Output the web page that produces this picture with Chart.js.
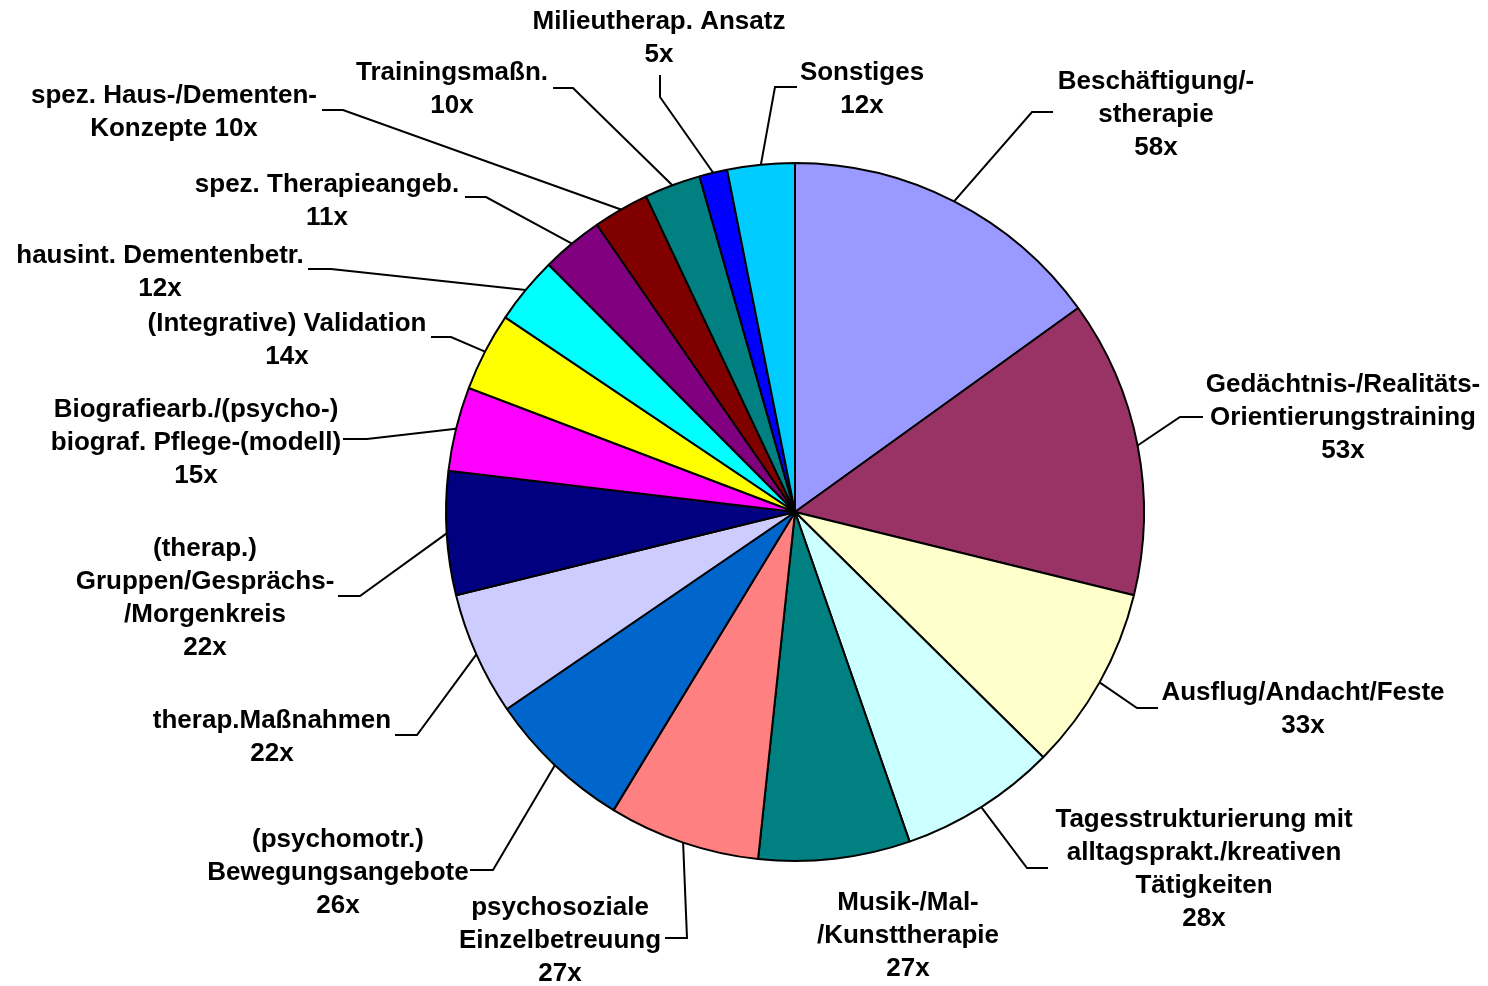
<!DOCTYPE html>
<html>
<head>
<meta charset="utf-8">
<script src="https://cdn.jsdelivr.net/npm/chart.js@4.4.1/dist/chart.umd.min.js"></script>
<style>
  html, body { margin: 0; padding: 0; background: #fff; }
  #wrap { width: 1488px; height: 986px; position: relative; }
</style>
</head>
<body>
<div id="wrap"><canvas id="c" width="1488" height="986"></canvas></div>
<script>
// ---- data ----
const categories = [
  "Beschäftigung/-\nstherapie",
  "Gedächtnis-/Realitäts-\nOrientierungstraining",
  "Ausflug/Andacht/Feste",
  "Tagesstrukturierung mit\nalltagsprakt./kreativen\nTätigkeiten",
  "Musik-/Mal-\n/Kunsttherapie",
  "psychosoziale\nEinzelbetreuung",
  "(psychomotr.)\nBewegungsangebote",
  "therap.Maßnahmen",
  "(therap.)\nGruppen/Gesprächs-\n/Morgenkreis",
  "Biografiearb./(psycho-)\nbiograf. Pflege-(modell)",
  "(Integrative) Validation",
  "hausint. Dementenbetr.",
  "spez. Therapieangeb.",
  "spez. Haus-/Dementen-\nKonzepte",
  "Trainingsmaßn.",
  "Milieutherap. Ansatz",
  "Sonstiges"
];
const values = [58, 53, 33, 28, 27, 27, 26, 22, 22, 15, 14, 12, 11, 10, 10, 5, 12];
const valueSuffix = "x";
const valueInline = [false,false,false,false,false,false,false,false,false,false,false,false,false,true,false,false,false];

// ---- styles ----
const colors = [
  "#9999FF", "#993366", "#FFFFCC", "#CCFFFF", "#008080", "#FF8080", "#0066CC",
  "#CCCCFF", "#000080", "#FF00FF", "#FFFF00", "#00FFFF", "#800080", "#800000",
  "#008080", "#0000FF", "#00CCFF"
];

// label layout: offsets relative to pie centre (text = centre x / first line y; leader = points after the arc anchor)
const labelLayout = [
  { t: [361, -430], l: [[237, -400], [258, -400]] },
  { t: [548, -127], l: [[385, -95], [408, -95]] },
  { t: [508, 181],  l: [[342, 196], [363, 196]] },
  { t: [409, 308],  l: [[232, 356], [253, 356]] },
  { t: [113, 391],  l: null },
  { t: [-235, 396], l: [[-108, 426], [-130, 426]] },
  { t: [-457, 328], l: [[-302, 358], [-325, 358]] },
  { t: [-523, 209], l: [[-378, 223], [-400, 223]] },
  { t: [-590, 37],  l: [[-435, 84], [-457, 84]] },
  { t: [-599, -102], l: [[-428, -73], [-452, -73]] },
  { t: [-508, -188], l: [[-344, -175], [-364, -175]] },
  { t: [-635, -256], l: [[-464, -243], [-487, -243]] },
  { t: [-468, -327], l: [[-309, -315], [-330, -315]] },
  { t: [-621, -416], l: [[-452, -402], [-473, -402]] },
  { t: [-343, -439], l: [[-222, -424], [-242, -424]] },
  { t: [-136, -490], l: [[-135, -415], [-135, -437]] },
  { t: [67, -439],  l: [[-20, -425], [2, -425]] }
];
const LINE_H = 33;
const FONT = "bold 26px 'Liberation Sans', Arial, sans-serif";

const labelPlugin = {
  id: 'pieLabels',
  afterDatasetsDraw(chart) {
    const ctx = chart.ctx;
    const meta = chart.getDatasetMeta(0);
    ctx.save();
    ctx.strokeStyle = '#000';
    ctx.lineWidth = 2;
    ctx.fillStyle = '#000';
    ctx.font = FONT;
    ctx.textAlign = 'center';
    ctx.textBaseline = 'middle';
    meta.data.forEach((arc, i) => {
      const p = arc.getProps(['x', 'y', 'startAngle', 'endAngle', 'outerRadius'], true);
      const mid = (p.startAngle + p.endAngle) / 2;
      const ax = p.x + p.outerRadius * Math.cos(mid);
      const ay = p.y + p.outerRadius * Math.sin(mid);
      const lay = labelLayout[i];
      if (lay.l) {
        ctx.beginPath();
        ctx.moveTo(ax, ay);
        lay.l.forEach(pt => ctx.lineTo(p.x + pt[0], p.y + pt[1]));
        ctx.stroke();
      }
      const lines = categories[i].split("\n");
      const vtxt = values[i] + valueSuffix;
      if (valueInline[i]) lines[lines.length - 1] += " " + vtxt; else lines.push(vtxt);
      const tx = p.x + lay.t[0];
      let ty = p.y + lay.t[1];
      lines.forEach((ln, k) => ctx.fillText(ln, tx, ty + k * LINE_H));
    });
    ctx.restore();
  }
};

new Chart(document.getElementById('c'), {
  type: 'pie',
  data: {
    labels: categories,
    datasets: [{
      data: values,
      backgroundColor: colors,
      borderColor: '#000000',
      borderWidth: 2,
      hoverOffset: 0
    }]
  },
  options: {
    responsive: false,
    animation: false,
    events: [],
    radius: 349,
    layout: { padding: { left: 102, right: 0, top: 38, bottom: 0 } },
    plugins: { legend: { display: false }, tooltip: { enabled: false } }
  },
  plugins: [labelPlugin]
});
</script>
</body>
</html>
